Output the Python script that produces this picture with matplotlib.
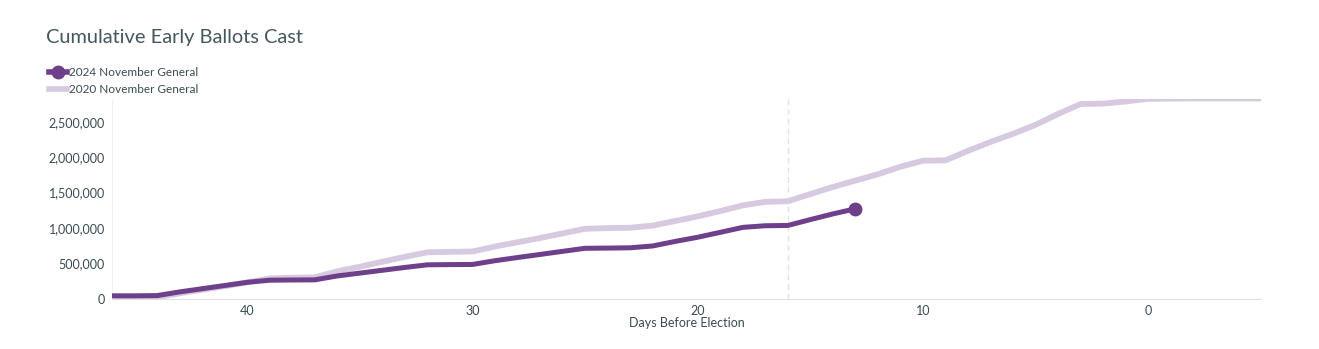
import matplotlib
matplotlib.use("Agg")
import matplotlib.pyplot as plt
from matplotlib.ticker import FuncFormatter
from matplotlib.lines import Line2D

plt.rcParams['font.family'] = ['Lato', 'DejaVu Sans']

# days before election and cumulative early ballots
days_2020 = list(range(46, -6, -1))
ballots_2020 = [20000, 20000, 25000, 80000, 130000, 180000, 235000, 290000, 300000, 305000,
                390000, 455000, 525000, 595000, 658000, 665000, 670000, 740000, 800000, 860000,
                925000, 990000, 1000000, 1005000, 1035000, 1100000, 1165000, 1240000, 1320000,
                1370000, 1378000, 1480000, 1580000, 1670000, 1760000, 1865000, 1950000, 1955000,
                2090000, 2215000, 2330000, 2457000, 2610000, 2750000, 2755000, 2785000, 2823000,
                2826000, 2828000, 2828000, 2828000, 2828000]

days_2024 = list(range(46, 12, -1))
ballots_2024 = [45000, 45000, 48000, 100000, 145000, 190000, 235000, 265000, 268000, 270000,
                325000, 365000, 405000, 445000, 482000, 485000, 487000, 540000, 585000, 628000,
                672000, 715000, 718000, 722000, 748000, 812000, 871000, 940000, 1010000, 1033000,
                1037000, 1120000, 1200000, 1272000]

xticks = [40, 30, 20, 10, 0]
yticks = [0, 500000, 1000000, 1500000, 2000000, 2500000]
today = 16

dark = '#6e3f8b'
light = '#d7c9e0'
text_col = '#3b4a52'

fig = plt.figure(figsize=(13.19, 3.49), dpi=100)
ax = fig.add_axes([112/1319, 1-299/349, (1261-112)/1319, (299-99)/349])

ax.plot(days_2020, ballots_2020, color=light, lw=4.2, solid_capstyle='butt', zorder=2)
ax.plot(days_2024, ballots_2024, color=dark, lw=3.6, solid_capstyle='butt', zorder=3)
ax.plot(days_2024[-1], ballots_2024[-1], 'o', color=dark, ms=9, zorder=4)
ax.axvline(today, color='#e2e2e2', lw=1, ls=(0, (4, 3)), zorder=1)

ax.set_xlim(46, -5)
ax.set_ylim(0, 2820000)
ax.set_xticks(xticks)
ax.set_yticks(yticks)
ax.yaxis.set_major_formatter(FuncFormatter(lambda v, p: f'{int(v):,}'))
ax.tick_params(length=0, labelsize=9, colors=text_col, pad=5)
ax.tick_params(axis='x', pad=4)
for s in ['top', 'right']:
    ax.spines[s].set_visible(False)
ax.spines['bottom'].set_color('#e0e0e0')
ax.spines['left'].set_color('#f0f0f0')
ax.set_xlabel('Days Before Election', fontsize=9, color=text_col, labelpad=0)

fig.text(46/1319, 1-37/349, 'Cumulative Early Ballots Cast', fontsize=14.4,
         color='#44565f', va='center', ha='left')

handles = [Line2D([], [], color=dark, lw=4, marker='o', ms=9, markevery=[1]),
           Line2D([], [], color=light, lw=4)]
fig.legend(handles, ['2024 November General', '2020 November General'],
           loc='upper left', bbox_to_anchor=(49/1319, 1-67/349), frameon=False,
           fontsize=8.5, labelcolor=text_col, handlelength=1.5, handletextpad=0.2,
           labelspacing=0.55, borderpad=0, borderaxespad=0)

fig.savefig('out.png', dpi=100)
